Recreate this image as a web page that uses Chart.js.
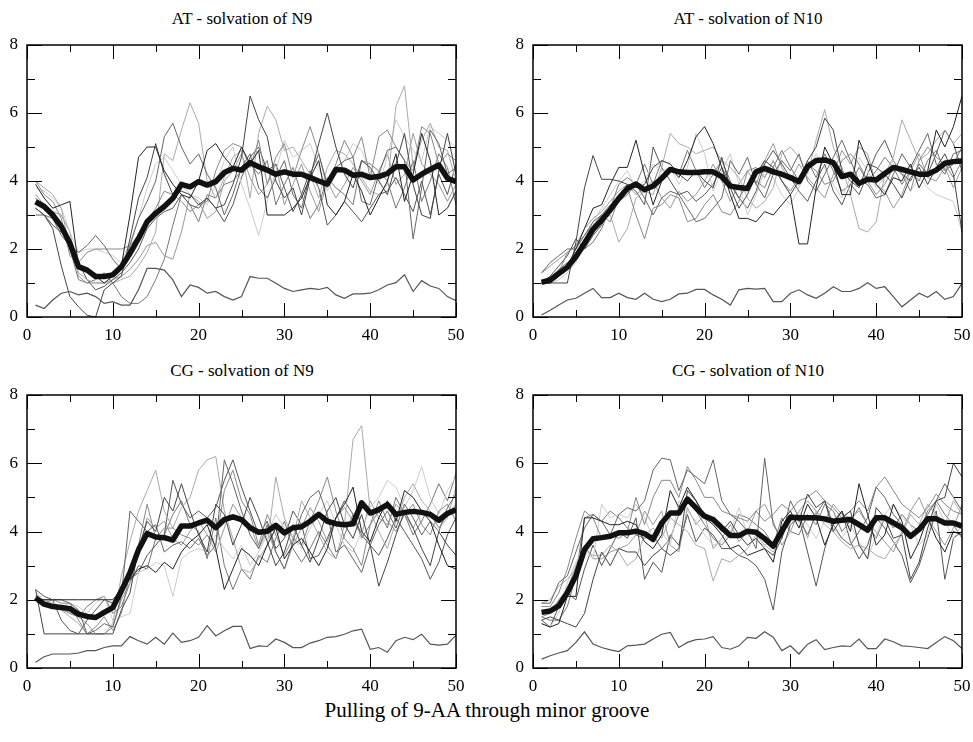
<!DOCTYPE html>
<html><head><meta charset="utf-8">
<script src="https://cdn.jsdelivr.net/npm/chart.js@4"></script>
<style>
body{margin:0;background:#fff;width:973px;height:742px;position:relative;overflow:hidden;font-family:"Liberation Serif","Times New Roman",serif;color:#000;}
.panel{position:absolute;width:486px;height:330px;}
.title{position:absolute;font-size:17px;text-align:center;white-space:nowrap;transform:translateX(-50%);line-height:1;}
.caption{position:absolute;left:487px;top:700px;font-size:21px;white-space:nowrap;transform:translateX(-50%);line-height:1;}
</style></head><body>
<div class="title" style="left:242px;top:10px">AT - solvation of N9</div>
<div class="title" style="left:748px;top:10px">AT - solvation of N10</div>
<div class="title" style="left:242px;top:362px">CG - solvation of N9</div>
<div class="title" style="left:748px;top:362px">CG - solvation of N10</div>
<div class="caption">Pulling of 9-AA through minor groove</div>
<div class="panel" style="left:0;top:30px"><canvas id="c1" width="486" height="330"></canvas></div>
<div class="panel" style="left:486px;top:30px"><canvas id="c2" width="486" height="330"></canvas></div>
<div class="panel" style="left:0;top:380px"><canvas id="c3" width="486" height="330"></canvas></div>
<div class="panel" style="left:486px;top:380px"><canvas id="c4" width="486" height="330"></canvas></div>
<script>
const steps = [1,2,3,4,5,6,7,8,9,10,11,12,13,14,15,16,17,18,19,20,21,22,23,24,25,26,27,28,29,30,31,32,33,34,35,36,37,38,39,40,41,42,43,44,45,46,47,48,49,50];
const xTicks = [0,10,20,30,40,50];
const yTicks = [0,2,4,6,8];
const titles = ["AT - solvation of N9","AT - solvation of N10","CG - solvation of N9","CG - solvation of N10"];
const thinColors = ['#222','#444','#666','#888','#aaa','#ccc','#555','#999','#777'];

// ---- AT N9 ----
const at9Mean = [3.39,3.25,3.0,2.66,2.17,1.48,1.38,1.19,1.19,1.24,1.48,1.87,2.31,2.8,3.05,3.25,3.49,3.9,3.83,3.98,3.88,3.98,4.25,4.37,4.32,4.54,4.42,4.32,4.2,4.27,4.2,4.2,4.1,4.0,3.91,4.34,4.32,4.17,4.2,4.1,4.13,4.22,4.42,4.42,4.03,4.2,4.34,4.47,4.08,3.98];
const at9Low = [0.35,0.25,0.5,0.7,0.75,0.65,0.7,0.6,0.4,0.45,0.35,0.35,0.8,1.43,1.43,1.38,1.09,0.6,0.94,0.87,0.7,0.75,0.6,0.5,0.6,1.19,1.14,1.14,0.99,0.84,0.75,0.8,0.84,0.81,0.87,0.65,0.55,0.68,0.68,0.7,0.8,0.94,1.01,1.24,0.75,1.07,0.91,0.84,0.6,0.48];
const at9A = [3.9,3.5,3.2,3.3,3.4,1.5,1.4,1.2,1.0,1.2,1.5,3.0,4.7,5.0,5.0,4.3,3.9,3.6,3.5,4.0,4.9,5.1,4.7,4.4,5.0,4.5,4.9,3.0,3.0,3.0,3.2,3.5,4.1,4.6,3.3,3.0,3.4,4.2,3.7,3.0,3.5,4.0,4.8,3.4,4.2,5.4,4.6,3.0,3.2,3.7];
const at9B = [3.2,3.0,2.6,1.5,0.6,0.3,0.05,0.0,0.8,1.0,1.2,2.3,3.5,4.1,5.1,4.2,3.6,3.7,3.6,3.3,3.5,3.2,3.3,3.9,4.7,6.5,5.8,5.3,4.0,3.5,3.8,3.0,4.1,5.1,6.0,5.0,4.2,3.8,4.6,4.4,4.0,3.6,4.5,5.4,3.9,3.0,2.9,4.3,5.4,4.2];
const at9C = [3.0,3.0,2.9,2.4,2.1,1.9,2.1,2.4,2.1,1.7,1.4,2.1,2.9,3.4,4.0,5.3,5.7,5.0,4.5,4.8,4.2,3.8,3.0,3.6,4.4,4.8,3.8,3.5,4.1,4.6,3.6,3.2,4.2,4.8,3.9,4.4,4.6,4.7,3.4,3.3,4.2,4.9,5.0,4.6,2.3,3.8,5.5,5.1,4.2,4.4];
const at9D = [4.0,3.6,3.4,2.9,1.8,1.6,1.9,2.0,2.0,2.0,2.0,2.1,2.4,2.8,3.2,3.7,3.6,3.4,3.1,3.3,3.4,4.3,4.9,5.1,5.0,4.4,5.2,3.9,4.7,5.1,4.1,4.9,5.6,4.8,3.8,4.5,5.2,4.7,5.3,4.1,5.3,5.5,5.0,4.6,4.3,5.6,5.4,4.5,4.8,4.6];
const at9E = [4.0,3.8,3.6,3.2,2.0,1.3,1.1,1.0,1.0,1.0,1.1,1.2,1.5,1.9,2.5,4.8,4.6,5.5,6.3,5.7,4.0,3.5,4.1,4.7,4.9,3.5,5.4,6.2,5.8,4.9,5.0,4.6,4.2,3.5,4.4,4.9,4.8,4.5,4.1,3.7,3.6,3.9,6.2,6.8,4.4,5.2,5.7,5.0,4.9,4.0];
const at9F = [3.8,3.7,3.5,3.2,2.5,1.9,2.0,2.0,1.9,1.8,1.6,2.2,2.9,3.8,4.5,4.7,4.3,3.9,3.6,3.5,3.3,3.9,4.6,5.0,3.9,3.2,2.4,3.4,4.3,5.2,4.7,4.9,5.1,4.4,3.7,4.2,4.6,5.1,4.9,4.3,3.9,4.7,5.8,5.3,4.9,4.6,5.6,5.4,5.2,5.0];
const at9G = [3.2,3.0,2.7,2.5,2.2,1.6,1.1,0.8,0.9,1.1,1.3,1.6,2.0,2.6,2.9,3.1,3.2,3.6,3.3,3.2,3.5,3.2,2.8,3.3,4.1,4.7,5.0,4.3,4.5,3.8,3.1,3.6,4.3,3.8,2.7,3.0,3.4,3.1,2.8,3.2,3.6,3.7,4.1,3.6,3.1,4.0,3.0,4.2,3.6,4.5];
const at9H = [3.6,3.3,3.1,3.0,2.5,1.2,1.0,1.0,1.0,1.1,1.2,1.4,1.7,2.1,2.2,1.8,1.7,2.5,3.6,3.4,2.9,3.1,4.0,4.3,4.8,4.1,3.6,3.9,4.5,3.3,3.9,4.5,3.7,3.1,4.0,3.5,3.9,4.4,4.0,3.6,4.3,4.8,3.9,4.2,5.4,4.5,4.2,3.9,3.4,3.9];
const at9I = [3.5,3.2,3.0,2.7,2.0,1.1,1.0,1.1,1.3,1.0,0.6,0.4,0.4,0.6,1.1,1.7,2.7,3.6,3.3,2.8,3.6,3.5,3.9,4.0,4.3,4.5,4.2,4.6,3.3,3.9,4.4,3.6,2.9,3.3,4.1,3.8,3.6,3.3,4.6,4.5,4.3,4.0,3.2,3.8,4.6,3.4,4.0,4.8,4.4,3.3];

// ---- AT N10 ----
const at10Mean = [1.02,1.09,1.28,1.46,1.77,2.17,2.58,2.85,3.15,3.49,3.78,3.91,3.74,3.85,4.08,4.34,4.27,4.25,4.25,4.27,4.27,4.13,3.85,3.81,3.78,4.27,4.37,4.27,4.2,4.1,3.98,4.42,4.6,4.62,4.54,4.13,4.2,3.93,4.05,4.03,4.22,4.4,4.34,4.27,4.2,4.2,4.32,4.52,4.57,4.59];
const at10Low = [0.06,0.2,0.35,0.5,0.55,0.7,0.84,0.57,0.57,0.7,0.57,0.52,0.7,0.52,0.45,0.52,0.68,0.7,0.81,0.81,0.65,0.52,0.35,0.8,0.84,0.82,0.84,0.45,0.45,0.7,0.8,0.65,0.55,0.7,0.89,0.75,0.75,0.84,1.01,0.84,0.89,0.6,0.3,0.5,0.7,0.58,0.75,0.52,0.6,0.99];
const at10A = [1.0,1.0,1.2,1.5,2.0,2.6,3.2,3.3,3.9,4.4,4.4,5.2,4.2,3.3,4.0,4.4,4.1,4.6,5.3,5.6,5.1,4.4,3.6,2.9,2.9,2.8,3.1,3.0,3.3,3.6,2.15,2.15,3.8,5.0,4.5,3.6,3.6,5.2,4.6,3.9,3.6,4.1,4.0,4.5,3.8,4.3,5.5,5.0,5.6,6.5];
const at10B = [1.0,1.0,1.0,1.0,2.2,3.8,4.75,4.05,4.05,4.0,3.9,3.8,3.9,4.4,4.6,4.5,4.2,4.0,4.3,4.0,3.8,4.7,3.8,3.2,3.6,4.2,4.6,4.4,4.0,3.6,4.0,4.6,5.0,5.85,5.5,4.3,4.0,3.8,4.5,4.4,4.2,3.9,3.5,4.1,4.4,3.9,4.4,4.8,4.2,2.5];
const at10C = [1.3,1.6,1.8,2.0,2.0,2.4,2.8,3.0,3.3,3.4,3.6,3.9,3.5,3.0,3.5,3.7,3.6,3.2,2.8,2.9,3.2,3.5,4.6,4.2,4.7,3.9,3.5,4.2,4.6,4.3,4.8,4.0,3.7,4.2,4.7,5.2,4.6,4.0,3.9,3.5,3.6,4.2,4.8,4.4,4.9,5.4,4.5,4.2,4.8,4.9];
const at10D = [1.0,1.1,1.3,1.9,2.1,2.4,2.7,3.0,2.8,3.5,3.8,3.0,2.3,3.2,3.3,3.6,3.5,2.8,2.9,3.3,3.6,3.1,3.0,3.4,4.3,4.4,4.1,4.6,4.0,3.7,4.1,4.5,4.3,3.9,4.0,4.6,4.8,4.5,4.0,3.6,3.9,4.4,4.2,3.7,4.6,5.0,4.7,4.5,4.1,4.6];
const at10E = [1.0,1.1,1.4,1.5,1.9,2.2,2.5,2.8,3.0,2.2,2.6,3.5,3.7,3.6,4.4,5.4,5.1,5.0,4.8,4.9,5.0,4.6,4.4,4.1,3.5,3.2,3.4,3.8,4.8,5.0,4.7,4.2,5.2,6.1,5.0,4.4,3.6,2.6,2.5,2.8,4.2,4.7,5.8,5.2,4.6,4.8,5.2,5.5,5.1,5.4];
const at10F = [1.0,1.0,1.1,1.3,1.6,2.2,2.8,3.2,3.6,4.0,4.3,3.8,4.0,4.5,4.3,4.4,3.9,4.4,5.4,4.8,3.7,4.3,4.8,3.9,3.0,3.6,4.3,4.1,3.6,3.3,3.8,4.3,4.8,4.4,3.9,3.5,4.1,4.7,4.3,3.8,4.1,4.6,4.3,3.7,4.1,3.8,3.6,3.5,3.4,2.5];
const at10G = [1.0,1.2,1.5,1.8,2.3,2.0,2.4,2.7,3.2,3.5,3.9,3.7,3.3,5.0,4.4,4.0,3.6,3.7,3.4,3.6,3.9,4.4,3.9,3.5,3.2,3.7,4.5,4.9,4.5,4.1,3.7,3.4,4.0,4.5,3.7,3.3,3.9,3.6,4.2,4.8,5.2,4.6,4.2,4.0,4.5,4.2,4.8,5.5,5.1,4.3];
const at10H = [1.3,1.5,1.7,1.9,2.1,2.6,2.9,3.1,3.4,3.7,3.9,3.6,3.8,4.0,3.5,3.2,3.7,3.4,3.6,4.0,4.5,4.0,3.4,3.9,4.3,3.9,4.6,5.1,4.4,4.0,4.5,4.1,3.8,3.5,4.2,4.9,4.5,5.0,4.8,3.9,3.7,3.2,3.6,4.3,4.8,4.1,4.0,4.4,3.8,4.4];
const at10I = [1.0,1.0,1.4,1.6,1.8,2.0,2.2,2.6,3.2,3.9,4.1,3.9,4.5,3.9,4.6,4.5,4.2,4.9,4.3,3.8,4.2,4.6,4.0,3.5,3.9,4.0,3.8,4.4,4.9,4.4,4.0,4.6,4.1,4.8,4.3,3.7,3.9,4.4,4.0,4.3,4.7,4.4,3.9,4.3,4.0,4.6,4.9,4.3,4.5,5.0];

// ---- CG N9 ----
const cg9Mean = [2.06,1.87,1.8,1.77,1.74,1.58,1.51,1.48,1.63,1.77,2.26,2.79,3.47,3.94,3.84,3.82,3.75,4.16,4.16,4.25,4.33,4.11,4.35,4.43,4.35,4.11,3.98,4.01,4.18,3.96,4.11,4.14,4.3,4.5,4.3,4.23,4.2,4.23,4.84,4.54,4.64,4.79,4.5,4.56,4.59,4.56,4.5,4.33,4.53,4.64];
const cg9Low = [0.17,0.33,0.41,0.41,0.41,0.44,0.51,0.51,0.6,0.65,0.65,0.92,0.8,0.7,0.9,0.7,1.02,0.75,0.8,0.9,1.24,0.94,1.09,1.22,1.22,0.57,0.65,0.63,0.85,0.75,0.6,0.6,0.73,0.8,0.9,0.92,0.99,1.09,1.14,0.55,0.6,0.46,0.8,0.9,0.83,0.99,0.7,0.67,0.7,0.96];
const cg9A = [2.0,2.0,2.0,2.0,2.0,2.0,2.0,2.0,2.0,2.0,2.3,2.6,2.9,3.0,2.8,3.1,2.9,3.4,3.7,3.9,4.2,3.5,2.3,2.9,3.5,3.3,3.0,3.6,4.1,3.2,3.6,3.8,3.4,3.0,3.5,4.4,4.8,5.3,4.0,3.7,4.4,4.9,4.3,5.2,5.0,4.6,4.3,3.6,3.0,2.9];
const cg9B = [2.3,1.0,1.0,1.0,1.0,1.0,1.0,1.0,1.0,1.0,1.7,2.2,3.5,4.3,4.0,5.0,4.6,5.4,4.6,3.9,3.4,4.8,4.5,3.6,4.2,5.0,4.4,3.7,3.0,3.4,4.2,3.6,3.1,3.8,4.6,5.0,4.2,3.8,4.5,3.6,2.4,3.1,3.9,4.6,4.1,3.5,3.0,4.0,3.6,3.3];
const cg9C = [2.0,2.0,2.0,2.0,1.9,1.7,1.0,1.1,1.3,1.2,2.1,4.6,4.3,4.0,4.2,3.4,3.6,3.7,3.5,3.8,3.3,3.6,6.1,5.4,4.6,3.9,3.5,4.2,3.4,2.9,3.7,4.5,5.0,5.2,4.5,3.4,3.6,3.2,2.8,3.6,4.2,4.6,4.1,4.8,4.4,3.9,4.3,4.0,4.7,5.1];
const cg9D = [2.0,1.9,2.0,1.9,1.9,1.4,1.0,1.2,1.5,1.1,1.6,2.8,3.6,4.8,3.8,4.1,4.1,3.9,3.8,3.6,3.9,3.6,5.2,5.8,4.9,4.5,3.6,4.5,3.9,3.3,3.8,3.6,4.3,4.9,5.6,4.6,3.8,3.5,3.0,4.2,4.9,4.3,4.0,4.5,4.8,4.2,3.9,4.6,4.8,4.3];
const cg9E = [2.1,1.8,1.8,1.7,1.5,1.3,1.0,1.0,1.0,1.3,2.7,3.7,4.6,5.2,5.8,4.6,4.1,4.7,5.0,5.8,6.1,6.2,4.6,3.8,2.9,2.8,3.2,3.6,5.6,4.4,3.8,4.9,4.4,3.9,3.4,3.2,4.2,6.7,7.1,4.6,4.0,3.5,4.3,5.0,5.4,4.9,4.6,4.1,4.4,5.3];
const cg9F = [2.2,2.0,1.9,1.8,1.9,1.8,1.6,1.9,2.1,1.4,1.5,1.6,2.8,2.9,3.1,3.0,2.1,3.2,3.4,3.5,3.4,3.9,3.5,3.2,3.6,3.0,3.4,3.9,4.5,4.1,3.8,3.5,4.1,4.5,4.9,4.2,3.6,3.4,4.0,4.7,5.0,5.5,5.3,4.7,5.2,5.9,5.0,4.5,5.2,5.6];
const cg9G = [2.3,2.1,2.0,1.4,1.1,1.0,1.4,1.7,2.0,1.9,2.4,2.6,2.8,3.3,3.6,3.9,5.5,4.8,4.4,4.6,4.4,4.7,5.5,6.1,5.3,4.6,3.9,4.3,3.5,3.8,4.6,4.2,3.2,3.3,3.8,4.4,4.9,4.5,3.9,3.6,3.3,3.8,4.4,4.0,3.6,3.2,2.6,3.1,3.9,4.4];
const cg9H = [2.0,1.9,1.9,1.7,1.6,1.5,1.3,1.0,1.0,1.2,2.0,2.5,3.4,4.4,4.1,4.3,3.8,3.6,4.0,4.3,3.9,3.4,4.1,4.8,4.4,4.2,3.5,4.0,3.4,2.9,3.6,4.1,4.7,4.3,3.7,4.4,4.7,4.3,3.9,4.9,4.4,4.2,4.8,4.5,4.1,4.6,4.5,4.1,4.5,4.8];
const cg9I = [2.1,1.9,1.8,1.8,1.6,1.5,1.8,2.0,2.1,1.6,1.8,2.5,3.0,2.9,3.8,3.9,4.5,4.9,4.2,4.0,3.2,4.4,3.0,2.3,2.9,2.6,3.3,3.1,3.8,4.3,3.5,3.1,3.5,4.0,3.6,3.2,3.9,4.5,3.8,4.2,4.6,4.1,5.0,4.5,3.9,4.3,4.8,5.4,4.9,5.7];

// ---- CG N10 ----
const cg10Mean = [1.63,1.67,1.82,2.21,2.7,3.47,3.79,3.82,3.86,3.96,3.96,4.01,3.94,3.77,4.25,4.54,4.54,4.95,4.69,4.45,4.35,4.11,3.88,3.88,4.01,3.98,3.79,3.57,4.01,4.42,4.4,4.4,4.4,4.37,4.3,4.33,4.35,4.2,4.04,4.4,4.4,4.25,4.11,3.86,4.06,4.37,4.37,4.25,4.25,4.16];
const cg10Low = [0.26,0.36,0.44,0.51,0.75,1.06,0.7,0.6,0.53,0.48,0.65,0.67,0.7,0.85,0.99,1.04,0.6,0.75,0.83,0.85,0.92,0.6,0.55,0.65,0.9,0.87,1.06,0.9,0.51,0.65,0.41,0.7,0.83,0.54,0.6,0.65,0.63,0.85,0.57,0.57,0.85,0.77,0.65,0.63,0.6,0.57,0.75,0.92,0.8,0.57];
const cg10A = [1.3,1.2,1.3,2.1,2.1,4.4,4.4,4.3,4.2,4.2,4.3,4.2,3.7,3.5,3.9,5.2,4.7,5.3,4.9,4.4,4.2,3.9,3.5,3.6,3.3,3.4,3.5,3.1,4.3,4.6,4.1,4.8,4.4,3.6,4.2,4.6,4.0,5.4,4.5,3.6,3.9,4.8,4.3,3.2,3.7,4.4,3.8,3.4,4.0,3.9];
const cg10B = [1.4,1.5,1.4,1.3,1.2,1.6,2.6,3.4,3.0,3.5,3.4,3.4,3.0,3.3,3.5,3.3,3.5,5.2,4.9,4.5,4.4,4.0,4.3,3.9,3.6,3.8,3.5,3.3,3.8,4.5,4.3,5.1,4.7,4.9,4.0,4.4,4.6,3.6,3.2,4.7,4.4,3.8,3.9,2.6,3.1,4.1,4.9,5.0,6.0,5.6];
const cg10C = [1.9,1.9,2.5,2.7,3.4,4.1,4.5,4.3,3.9,4.5,4.7,4.6,4.9,5.8,6.15,6.1,5.2,5.8,5.6,5.4,6.1,4.9,4.5,4.3,4.0,3.5,6.15,4.2,3.8,4.9,4.4,3.9,4.5,4.9,4.2,3.8,3.6,4.0,4.4,5.3,5.0,4.5,4.2,3.9,4.1,4.5,4.9,5.4,5.0,4.6];
const cg10D = [1.8,1.8,2.2,2.9,3.8,4.6,4.4,3.8,3.9,3.8,4.0,5.0,4.2,5.0,5.5,5.5,5.0,5.9,5.5,5.0,5.0,4.6,4.5,4.4,4.3,4.6,4.3,4.5,4.8,4.6,4.9,5.0,5.2,4.9,4.7,4.4,4.6,4.9,4.6,5.3,5.6,5.2,4.8,4.6,4.4,4.7,5.1,4.8,4.6,4.5];
const cg10E = [1.9,2.0,2.4,2.6,2.9,3.5,3.3,3.3,3.6,3.4,3.0,3.2,3.9,4.1,3.8,4.4,4.2,4.0,3.6,3.5,2.55,3.2,3.1,3.3,3.5,3.9,3.6,3.4,4.0,4.2,4.5,3.8,4.6,4.2,4.0,3.7,3.5,3.6,3.5,3.3,3.2,3.6,3.9,4.5,4.2,4.8,4.5,4.2,4.9,4.5];
const cg10F = [1.3,1.2,1.6,2.5,3.1,3.5,3.2,4.8,4.4,4.5,4.4,4.8,4.4,3.8,4.0,3.6,4.9,4.6,4.3,3.9,3.6,3.7,4.0,4.7,3.9,3.7,3.6,3.7,4.1,4.3,4.6,4.2,3.8,4.3,4.1,3.8,4.2,3.7,3.2,3.9,4.5,4.8,4.4,4.2,3.6,3.9,4.8,4.3,3.8,4.2];
const cg10G = [1.4,1.2,1.8,2.2,2.0,2.9,3.6,3.0,3.5,4.0,3.8,4.4,2.6,3.1,2.8,3.9,3.6,4.5,3.7,4.1,3.9,3.5,3.5,3.3,3.2,3.0,2.6,1.7,3.4,4.2,4.4,3.4,2.4,3.5,4.3,4.6,3.7,3.2,3.6,4.4,4.1,3.7,3.3,2.5,3.0,3.8,4.6,2.6,3.8,4.0];
const cg10H = [1.5,1.6,2.0,2.3,3.0,3.6,3.2,3.2,3.4,3.5,3.6,3.9,4.6,4.2,4.6,3.6,3.4,4.7,4.2,4.5,3.5,3.8,4.2,3.7,4.0,4.6,4.8,4.3,3.6,4.0,4.6,4.9,4.6,4.3,4.8,4.5,4.4,4.6,4.2,4.0,3.7,3.4,4.0,4.6,5.0,4.4,4.0,3.6,4.1,4.8];
const cg10I = [1.5,1.4,1.4,1.8,2.7,4.4,4.5,4.3,4.6,4.4,4.1,3.9,3.8,3.9,3.5,3.8,4.5,5.0,4.6,4.2,3.8,3.6,3.9,4.5,4.4,4.2,4.0,3.6,4.4,4.0,3.9,4.5,4.2,4.8,4.6,4.0,4.3,4.7,4.2,3.8,4.4,4.1,4.5,4.2,4.0,4.6,4.9,4.5,4.2,3.8];

const panels = [
  {id:'c1', mean:at9Mean, low:at9Low, thin:[at9A,at9B,at9C,at9D,at9E,at9F,at9G,at9H,at9I], divL:0, divT:30, L:27, R:456, T:45, B:317},
  {id:'c2', mean:at10Mean, low:at10Low, thin:[at10A,at10B,at10C,at10D,at10E,at10F,at10G,at10H,at10I], divL:486, divT:30, L:533, R:962, T:45, B:317},
  {id:'c3', mean:cg9Mean, low:cg9Low, thin:[cg9A,cg9B,cg9C,cg9D,cg9E,cg9F,cg9G,cg9H,cg9I], divL:0, divT:380, L:27, R:456, T:395, B:668},
  {id:'c4', mean:cg10Mean, low:cg10Low, thin:[cg10A,cg10B,cg10C,cg10D,cg10E,cg10F,cg10G,cg10H,cg10I], divL:486, divT:380, L:533, R:962, T:395, B:668}
];

const pts = arr => arr.map((v,i)=>({x:steps[i], y:v}));

const frameTicks = {
  id:'frameTicks',
  afterDatasetsDraw(chart){
    const {ctx, chartArea:a, scales:{x, y}} = chart;
    ctx.save();
    ctx.strokeStyle = '#000';
    ctx.lineWidth = 1;
    ctx.beginPath();
    for (let v=0; v<=50; v+=5){
      const px = Math.round(x.getPixelForValue(v))+0.5;
      const len = (v%10===0)?14:7;
      ctx.moveTo(px, a.bottom); ctx.lineTo(px, a.bottom-len);
      ctx.moveTo(px, a.top); ctx.lineTo(px, a.top+len);
    }
    for (let v=0; v<=8; v+=1){
      const py = Math.round(y.getPixelForValue(v))+0.5;
      const len = (v%2===0)?15:8;
      ctx.moveTo(a.left, py); ctx.lineTo(a.left+len, py);
      ctx.moveTo(a.right, py); ctx.lineTo(a.right-len, py);
    }
    ctx.stroke();
    ctx.lineWidth = 1.5;
    ctx.strokeRect(a.left, a.top, a.right-a.left, a.bottom-a.top);
    ctx.restore();
  }
};

Chart.defaults.font.family = '"Liberation Serif", "Times New Roman", serif';
const font = {family:'"Liberation Serif", "Times New Roman", serif', size:17};

panels.forEach(p=>{
  const datasets = [];
  datasets.push({data:pts(p.mean), borderColor:'#111', borderWidth:5.5, borderJoinStyle:'round'});
  datasets.push({data:pts(p.low), borderColor:'#555', borderWidth:1.2});
  p.thin.forEach((arr,i)=>datasets.push({data:pts(arr), borderColor:thinColors[i], borderWidth:1}));
  const yW = p.L - p.divL;
  const xH = 40;
  new Chart(document.getElementById(p.id), {
    type:'line',
    data:{datasets},
    options:{
      responsive:false, animation:false, devicePixelRatio:1,
      layout:{padding:{left:0, right:(p.divL+486)-p.R, top:p.T-p.divT, bottom:(p.divT+330)-p.B-xH}},
      plugins:{legend:{display:false}, tooltip:{enabled:false}, title:{display:false}},
      elements:{point:{radius:0}, line:{tension:0}},
      scales:{
        x:{type:'linear', min:0, max:50,
          afterBuildTicks(s){ s.ticks = xTicks.map(v=>({value:v})); },
          afterFit(s){ s.height = xH; s.paddingLeft=0; s.paddingRight=0; },
          grid:{display:false, drawTicks:false}, border:{display:false},
          ticks:{font, color:'#000', padding:8, maxRotation:0, autoSkip:false}},
        y:{type:'linear', min:0, max:8,
          afterBuildTicks(s){ s.ticks = yTicks.map(v=>({value:v})); },
          afterFit(s){ s.width = yW; s.paddingTop=0; s.paddingBottom=0; },
          grid:{display:false, drawTicks:false}, border:{display:false},
          ticks:{font, color:'#000', padding:9, autoSkip:false}}
      }
    },
    plugins:[frameTicks]
  });
});
</script>
</body></html>
